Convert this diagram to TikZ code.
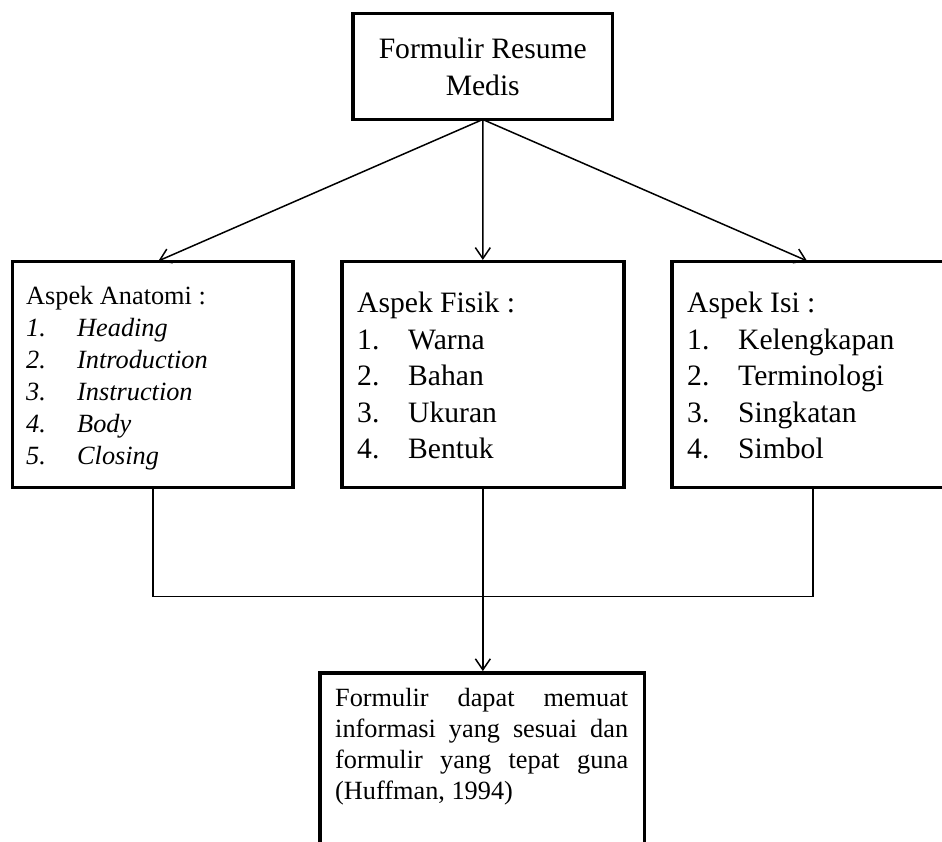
\documentclass[tikz,border=0pt]{standalone}
\usepackage{fontspec}
\setmainfont{Liberation Serif}
\usetikzlibrary{arrows.meta}
\begin{document}
\begin{tikzpicture}[x=1pt,y=-1pt,
  box/.style={draw, line width=3.6pt, rectangle, inner sep=0pt, outer sep=0pt},
  link/.style={line width=1.5pt},
  arr/.style={link, -{Straight Barb[length=11pt,width=15pt]}, shorten >=1.6pt},
  bigtxt/.style={font=\fontsize{29.6}{36}\selectfont, inner sep=0pt, anchor=base west},
  smalltxt/.style={font=\fontsize{26.3}{32}\selectfont, inner sep=0pt, anchor=base west},
  smallit/.style={font=\fontsize{26.3}{32}\selectfont\itshape, inner sep=0pt, anchor=base west}
]
\useasboundingbox (0,0) rectangle (942,841);
\clip (0,0) rectangle (942,841);

% boxes
\node[box, minimum width=259.5pt, minimum height=106pt] (top) at (482.75,66.5) {};
\node[box, minimum width=280.5pt, minimum height=226pt] (anat) at (152.75,374.5) {};
\node[box, minimum width=282.3pt, minimum height=226pt] (fis) at (482.85,374.5) {};
\node[box, minimum width=282pt, minimum height=226pt] (isi) at (813,374.5) {};
\node[box, minimum width=324.3pt, minimum height=300pt] (res) at (482.2,822.7) {};

% top box text
\node[bigtxt, anchor=base] (t1) at (482.75,58.3) {Formulir Resume};
\node[bigtxt, anchor=base] (t2) at (482.75,95) {Medis};

% left box text
\node[smalltxt] (a0) at (26,304) {Aspek Anatomi :};
\foreach \i/\t in {1/Heading,2/Introduction,3/Instruction,4/Body,5/Closing} {
  \node[smallit] (an\i) at (26,304+32*\i) {\i.};
  \node[smallit] (at\i) at (77,304+32*\i) {\t};
}

% middle box text
\node[bigtxt] (f0) at (357,312.5) {Aspek Fisik :};
\foreach \i/\t in {1/Warna,2/Bahan,3/Ukuran,4/Bentuk} {
  \node[bigtxt] (fn\i) at (357,312.5+36.5*\i) {\i.};
  \node[bigtxt] (ft\i) at (408,312.5+36.5*\i) {\t};
}

% right box text
\node[bigtxt] (i0) at (687,312.5) {Aspek Isi :};
\foreach \i/\t in {1/Kelengkapan,2/Terminologi,3/Singkatan,4/Simbol} {
  \node[bigtxt] (in\i) at (687,312.5+36.5*\i) {\i.};
  \node[bigtxt] (it\i) at (738,312.5+36.5*\i) {\t};
}

% bottom box text
\node[smalltxt] (r1) at (335,706) {\makebox[293pt][s]{Formulir dapat memuat}};
\node[smalltxt] (r2) at (335,737) {\makebox[293pt][s]{informasi yang sesuai dan}};
\node[smalltxt] (r3) at (335,768) {\makebox[293pt][s]{formulir yang tepat guna}};
\node[smalltxt] (r4) at (335,799) {(Huffman, 1994)};

% connectors from top
\coordinate (ta) at (157,261.5);
\coordinate (tc) at (808.5,261.5);
\draw[arr] (top.south) -- (ta);
\draw[arr] (top.south) -- (fis.north);
\draw[arr] (top.south) -- (tc);

% joining connectors
\coordinate (jn) at (482.85,596.5);
\draw[link] (anat.south) |- (isi.south |- jn) -- (isi.south);
\draw[arr] (fis.south) -- (fis.south |- res.north);
\end{tikzpicture}
\end{document}
